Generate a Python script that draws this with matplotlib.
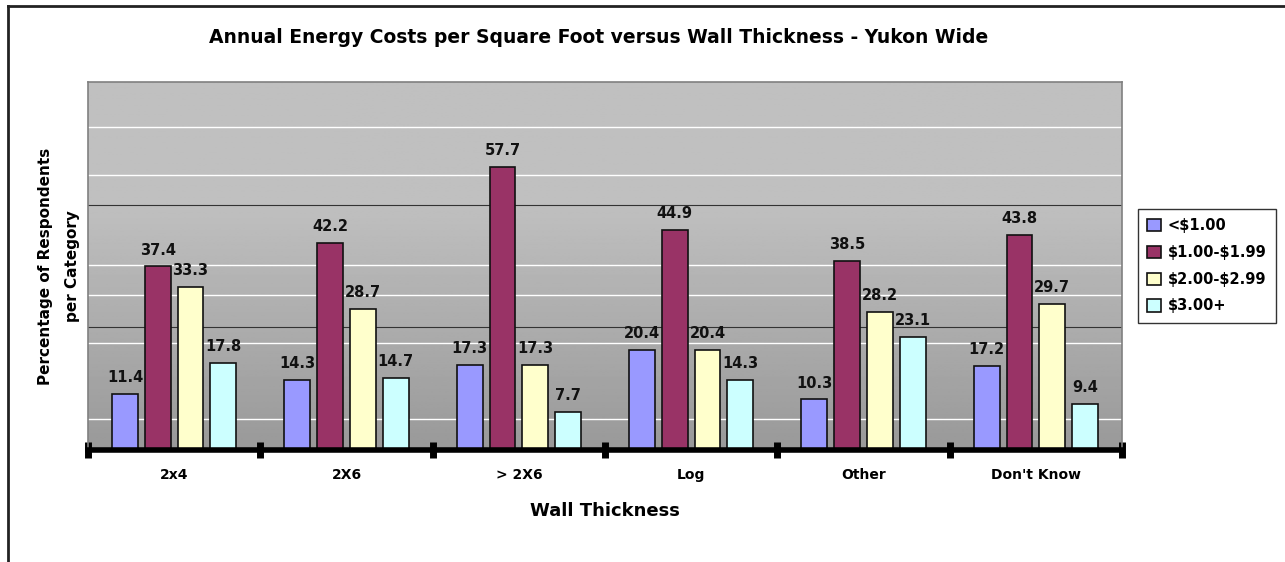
import numpy as np
import matplotlib.pyplot as plt
from matplotlib.lines import Line2D

plt.rcParams['font.family'] = ['DejaVu Sans']
plt.rcParams['font.weight'] = 'bold'

categories = ['2x4', '2X6', '> 2X6', 'Log', 'Other', "Don't Know"]
series_names = [r'<\$1.00', r'\$1.00-\$1.99', r'\$2.00-\$2.99', r'\$3.00+']
under_1 = [11.4, 14.3, 17.3, 20.4, 10.3, 17.2]
from_1_to_2 = [37.4, 42.2, 57.7, 44.9, 38.5, 43.8]
from_2_to_3 = [33.3, 28.7, 17.3, 20.4, 28.2, 29.7]
over_3 = [17.8, 14.7, 7.7, 14.3, 23.1, 9.4]
colors = ['#9999ff', '#993366', '#ffffcc', '#ccffff']

fig = plt.figure(figsize=(12.85, 5.62), dpi=100)
ax = fig.add_axes([88 / 1285, 112 / 562, 1034 / 1285, 368 / 562])
ymax = 75
ax.set_xlim(0, len(categories))
ax.set_ylim(0, ymax)

# gray backdrop: flat in the upper part, darkening toward the bottom
yy = np.linspace(0, ymax, 300)
shade = np.where(yy > 50, 0.75, 0.60 + 0.15 * yy / 50)
grad = np.repeat(shade[:, None], 2, axis=1)
ax.imshow(grad, cmap='gray', vmin=0, vmax=1, origin='lower', aspect='auto',
          extent=[0, len(categories), 0, ymax], zorder=0)

for gy in [6.3, 21.8, 31.6, 37.8, 56.1, 65.9]:
    ax.axhline(gy, color='white', lw=1, zorder=1)
for gy in [25, 50]:
    ax.axhline(gy, color='#333333', lw=0.8, zorder=1)

x = np.arange(len(categories)) + 0.5
offsets = [-0.285, -0.095, 0.095, 0.285]
all_series = [under_1, from_1_to_2, from_2_to_3, over_3]
for vals, off, col, name in zip(all_series, offsets, colors, series_names):
    bars = ax.bar(x + off, vals, width=0.15, color=col, edgecolor='#111111',
                  linewidth=1.2, zorder=3, label=name)
    for b, v in zip(bars, vals):
        ax.text(b.get_x() + b.get_width() / 2, v + 1.8, f'{v:.1f}',
                ha='center', va='bottom', fontsize=10.5, fontweight='bold',
                color='#111111', zorder=4)

for side in ['left', 'right', 'top']:
    ax.spines[side].set_color('#808080')
    ax.spines[side].set_linewidth(1.2)
ax.spines['bottom'].set_linewidth(4)
ax.spines['bottom'].set_color('black')
ax.spines['bottom'].set_zorder(5)

ax.set_yticks([])
ax.set_xticks(x)
ax.set_xticklabels(categories, fontsize=10, fontweight='bold')
ax.tick_params(axis='x', which='major', length=0, pad=13)
ax.set_xticks(np.arange(len(categories) + 1), minor=True)
ax.tick_params(axis='x', which='minor', direction='inout', length=11, width=5,
               color='black')
ax.set_xlabel('Wall Thickness', fontsize=13, fontweight='bold', labelpad=14)
ax.set_ylabel('Percentage of Respondents\nper Category', fontsize=11,
              fontweight='bold', labelpad=6, linespacing=2.0)

fig.text(0.466, 0.934, 'Annual Energy Costs per Square Foot versus Wall Thickness - Yukon Wide',
         ha='center', va='center', fontsize=13.5, fontweight='bold')

leg = fig.legend(loc='upper left', bbox_to_anchor=(1138 / 1285, 1 - 209 / 562),
                 prop={'weight': 'bold', 'size': 10.5}, frameon=True,
                 fancybox=False, edgecolor='black', handlelength=0.9,
                 handleheight=0.9, handletextpad=0.5, labelspacing=0.8,
                 borderpad=0.65, borderaxespad=0)
leg.get_frame().set_linewidth(1)

# outer chart frame: left and top edges
fig.add_artist(Line2D([8 / 1285, 8 / 1285], [0, 1 - 6 / 562], color='#222222', lw=2))
fig.add_artist(Line2D([8 / 1285, 1], [1 - 6 / 562, 1 - 6 / 562], color='#222222', lw=2))

fig.savefig('out.png', dpi=100)
